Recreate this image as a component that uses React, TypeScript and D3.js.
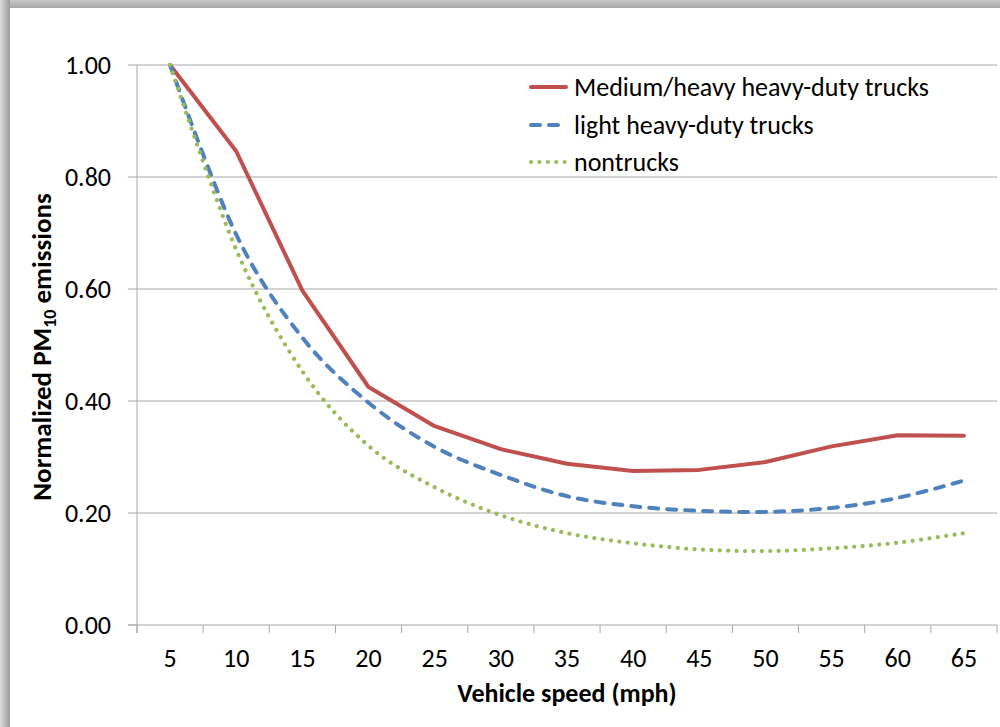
import React from 'react';
import * as d3 from 'd3';

const speeds = ['5', '10', '15', '20', '25', '30', '35', '40', '45', '50', '55', '60', '65'];
const mediumHeavy = [1.0, 0.846, 0.597, 0.425, 0.355, 0.314, 0.288, 0.275, 0.277, 0.291, 0.319, 0.339, 0.338];
const lightHeavy = [1.0, 0.697, 0.513, 0.397, 0.318, 0.268, 0.23, 0.212, 0.204, 0.202, 0.209, 0.227, 0.258];
const nontrucks = [1.0, 0.67, 0.453, 0.32, 0.246, 0.196, 0.164, 0.146, 0.135, 0.132, 0.137, 0.147, 0.164];
const yTicks = [0, 0.2, 0.4, 0.6, 0.8, 1.0];

const seriesNames = ['Medium/heavy heavy-duty trucks', 'light heavy-duty trucks', 'nontrucks'];

const W = 1000;
const H = 727;
const FONT = 'Carlito, Calibri, Lato, sans-serif';

export default function App() {
  const x = d3.scaleBand<string>().domain(speeds).range([137, 997]);
  const y = d3.scaleLinear().domain([0, 1]).range([625, 65]);
  const bw = x.bandwidth();
  const cx = (d: string) => (x(d) as number) + bw / 2;

  const lineLinear = d3.line<number>().x((_, i) => cx(speeds[i])).y((v) => y(v));
  const lineSmooth = d3
    .line<number>()
    .x((_, i) => cx(speeds[i]))
    .y((v) => y(v))
    .curve(d3.curveCardinal.tension(0));

  const series = [
    { name: seriesNames[0], values: mediumHeavy, color: '#C0504D', dash: undefined, width: 4, cap: 'round', gen: lineLinear },
    { name: seriesNames[1], values: lightHeavy, color: '#4F81BD', dash: '9 9', width: 4, cap: 'round', gen: lineSmooth },
    { name: seriesNames[2], values: nontrucks, color: '#9BBB59', dash: '0.01 8.4', width: 4.2, cap: 'round', gen: lineSmooth },
  ];

  const bounds = [...speeds.map((d) => x(d) as number), 137 + bw * speeds.length];
  const legendY = [87, 125, 162];

  return (
    <div style={{ position: 'absolute', left: 0, top: 0 }}>
      <svg width={W} height={H} style={{ display: 'block' }} fontFamily={FONT}>
        <defs>
          <linearGradient id="shL" x1="0" x2="1" y1="0" y2="0">
            <stop offset="0" stopColor="#dcdcdc" />
            <stop offset="1" stopColor="#9a9a9a" />
          </linearGradient>
          <linearGradient id="shT" x1="0" x2="0" y1="0" y2="1">
            <stop offset="0" stopColor="#c8c8c8" />
            <stop offset="1" stopColor="#a8a8a8" />
          </linearGradient>
        </defs>
        <rect x={0} y={0} width={W} height={H} fill="#ffffff" />
        <rect x={0} y={0} width={W} height={8} fill="url(#shT)" />
        <rect x={0} y={0} width={10} height={H} fill="url(#shL)" />
        <rect x={10} y={8} width={W - 10} height={H - 8} fill="#ffffff" />

        {/* gridlines */}
        {yTicks.filter((t) => t > 0).map((t) => (
          <line key={t} x1={137} x2={997} y1={y(t)} y2={y(t)} stroke="#a6a6a6" strokeWidth={1} />
        ))}
        {/* axes */}
        <line x1={137} x2={137} y1={65} y2={633} stroke="#a6a6a6" strokeWidth={1} />
        <line x1={128} x2={997} y1={625} y2={625} stroke="#a6a6a6" strokeWidth={1} />
        {yTicks.map((t) => (
          <line key={'yt' + t} x1={128} x2={137} y1={y(t)} y2={y(t)} stroke="#a6a6a6" strokeWidth={1} />
        ))}
        {bounds.map((b, i) => (
          <line key={'xt' + i} x1={b} x2={b} y1={625} y2={633} stroke="#a6a6a6" strokeWidth={1} />
        ))}

        {/* y tick labels */}
        {yTicks.map((t) => (
          <text key={'yl' + t} x={111} y={y(t)} dy="0.36em" textAnchor="end" fontSize={26} fill="#000">
            {t.toFixed(2)}
          </text>
        ))}
        {/* x tick labels */}
        {speeds.map((s) => (
          <text key={'xl' + s} x={cx(s)} y={667} textAnchor="middle" fontSize={26} fill="#000">
            {s}
          </text>
        ))}

        {/* series */}
        {series.map((s) => (
          <path
            key={s.name}
            d={s.gen(s.values) as string}
            fill="none"
            stroke={s.color}
            strokeWidth={s.width}
            strokeDasharray={s.dash}
            strokeLinecap={s.cap as any}
            strokeLinejoin="round"
          />
        ))}

        {/* legend */}
        {series.map((s, i) => (
          <g key={'lg' + i}>
            <line
              x1={531}
              x2={566}
              y1={legendY[i]}
              y2={legendY[i]}
              stroke={s.color}
              strokeWidth={s.width}
              strokeDasharray={s.dash}
              strokeLinecap={s.cap as any}
            />
            <text x={574} y={legendY[i]} dy="0.36em" fontSize={26} fill="#000">
              {s.name}
            </text>
          </g>
        ))}

        {/* axis titles */}
        <text x={567} y={702} textAnchor="middle" fontSize={26} fontWeight="bold" fill="#000">
          Vehicle speed (mph)
        </text>
        <text
          transform={`translate(51, 347) rotate(-90)`}
          textAnchor="middle"
          fontSize={27}
          fontWeight="bold"
          fill="#000"
        >
          Normalized PM
          <tspan fontSize={18} dy={5}>10</tspan>
          <tspan dy={-5}> emissions</tspan>
        </text>
      </svg>
    </div>
  );
}
